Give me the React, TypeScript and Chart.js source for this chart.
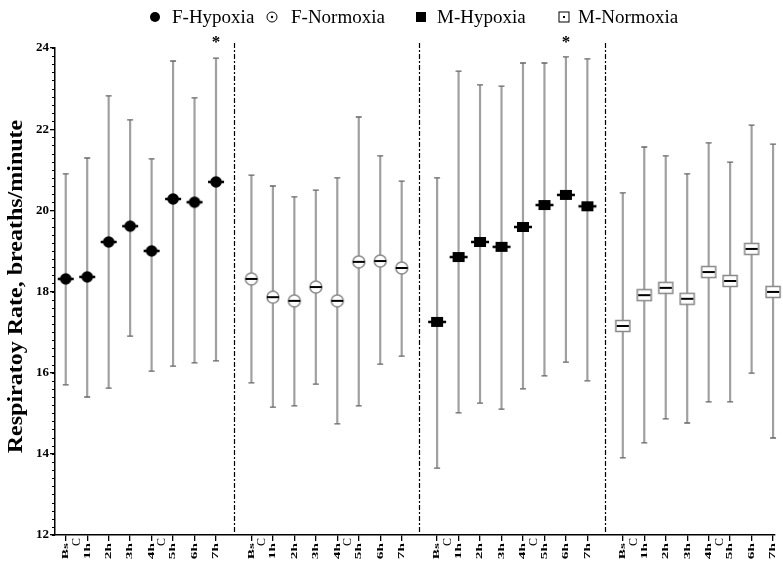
import React, { useEffect, useRef } from 'react';
import { Chart, registerables } from 'chart.js';

Chart.register(...registerables);

// ---------- data ----------
const timeLabels = ['Bs', '1h', '2h', '3h', '4h', '5h', '6h', '7h'];
const groupNames = ['F-Hypoxia', 'F-Normoxia', 'M-Hypoxia', 'M-Normoxia'];

const fHypoxiaMean = [18.31, 18.36, 19.22, 19.61, 19.0, 20.28, 20.2, 20.7];
const fHypoxiaLow = [15.7, 15.4, 15.62, 16.9, 16.04, 16.16, 16.24, 16.29];
const fHypoxiaHigh = [20.9, 21.29, 22.82, 22.23, 21.27, 23.68, 22.77, 23.75];

const fNormoxiaMean = [18.31, 17.86, 17.77, 18.11, 17.77, 18.73, 18.75, 18.58];
const fNormoxiaLow = [15.75, 15.15, 15.18, 15.72, 14.74, 15.18, 16.21, 16.41];
const fNormoxiaHigh = [20.87, 20.6, 20.33, 20.5, 20.8, 22.3, 21.34, 20.72];

const mHypoxiaMean = [17.25, 18.85, 19.22, 19.1, 19.59, 20.13, 20.38, 20.1];
const mHypoxiaLow = [13.65, 15.01, 15.25, 15.1, 15.6, 15.92, 16.26, 15.8];
const mHypoxiaHigh = [20.8, 23.43, 23.09, 23.06, 23.63, 23.63, 23.78, 23.73];

const mNormoxiaMean = [17.15, 17.91, 18.09, 17.82, 18.48, 18.26, 19.05, 17.99];
const mNormoxiaLow = [13.9, 14.27, 14.86, 14.76, 15.28, 15.28, 15.99, 14.39];
const mNormoxiaHigh = [20.43, 21.56, 21.34, 20.9, 21.66, 21.19, 22.1, 21.63];

// significance marks: index of time point flagged per group
const fHypoxiaSig = [7];
const fNormoxiaSig: number[] = [];
const mHypoxiaSig = [6];
const mNormoxiaSig: number[] = [];

const yMin = 12;
const yMax = 24;
const yStep = 2;
const yMinorStep = 0.2;
const yAxisTitle = 'Respiratoy Rate, breaths/minute';
const eventSymbol = 'C';
const eventPositions = [0.5, 4.5];

// ---------- layout constants ----------
const GROUP_STEP = 8.65;
const SERIF = '"Liberation Serif", "Times New Roman", serif';
const W = 783;
const H = 562;

type Series = { name: string; mean: number[]; low: number[]; high: number[]; sig: number[]; kind: string };
const series: Series[] = [
  { name: groupNames[0], mean: fHypoxiaMean, low: fHypoxiaLow, high: fHypoxiaHigh, sig: fHypoxiaSig, kind: 'fcircle' },
  { name: groupNames[1], mean: fNormoxiaMean, low: fNormoxiaLow, high: fNormoxiaHigh, sig: fNormoxiaSig, kind: 'ocircle' },
  { name: groupNames[2], mean: mHypoxiaMean, low: mHypoxiaLow, high: mHypoxiaHigh, sig: mHypoxiaSig, kind: 'fsquare' },
  { name: groupNames[3], mean: mNormoxiaMean, low: mNormoxiaLow, high: mNormoxiaHigh, sig: mNormoxiaSig, kind: 'osquare' },
];

const xOf = (g: number, i: number) => g * GROUP_STEP + i;

function makeMarker(kind: string): HTMLCanvasElement {
  const c = document.createElement('canvas');
  c.width = 20;
  c.height = 14;
  const ctx = c.getContext('2d')!;
  const cx = 10, cy = 7;
  if (kind === 'fcircle') {
    ctx.fillStyle = '#000';
    ctx.beginPath();
    ctx.arc(cx, cy, 5.8, 0, Math.PI * 2);
    ctx.fill();
    ctx.strokeStyle = '#000';
    ctx.lineWidth = 2.5;
    ctx.beginPath();
    ctx.moveTo(2, cy);
    ctx.lineTo(18, cy);
    ctx.stroke();
  } else if (kind === 'ocircle') {
    ctx.fillStyle = '#fff';
    ctx.strokeStyle = '#888';
    ctx.lineWidth = 1.5;
    ctx.beginPath();
    ctx.arc(cx, cy, 6, 0, Math.PI * 2);
    ctx.fill();
    ctx.stroke();
    ctx.strokeStyle = '#000';
    ctx.lineWidth = 2;
    ctx.beginPath();
    ctx.moveTo(4, cy);
    ctx.lineTo(16, cy);
    ctx.stroke();
  } else if (kind === 'fsquare') {
    ctx.fillStyle = '#000';
    ctx.fillRect(4, 2, 12, 10);
    ctx.strokeStyle = '#000';
    ctx.lineWidth = 2.5;
    ctx.beginPath();
    ctx.moveTo(1, cy);
    ctx.lineTo(19, cy);
    ctx.stroke();
  } else {
    ctx.fillStyle = '#fff';
    ctx.strokeStyle = '#888';
    ctx.lineWidth = 1.5;
    ctx.fillRect(3, 1.5, 14, 11);
    ctx.strokeRect(3, 1.5, 14, 11);
    ctx.strokeStyle = '#000';
    ctx.lineWidth = 2;
    ctx.beginPath();
    ctx.moveTo(4, cy);
    ctx.lineTo(16, cy);
    ctx.stroke();
  }
  return c;
}

function drawLegendMarker(ctx: CanvasRenderingContext2D, kind: string, x: number, y: number) {
  ctx.save();
  ctx.fillStyle = '#000';
  ctx.strokeStyle = '#000';
  if (kind === 'fcircle') {
    ctx.beginPath();
    ctx.arc(x, y, 5, 0, Math.PI * 2);
    ctx.fill();
  } else if (kind === 'ocircle') {
    ctx.lineWidth = 1;
    ctx.beginPath();
    ctx.arc(x, y, 5, 0, Math.PI * 2);
    ctx.stroke();
    ctx.beginPath();
    ctx.arc(x, y, 1.2, 0, Math.PI * 2);
    ctx.fill();
  } else if (kind === 'fsquare') {
    ctx.fillRect(x - 5, y - 5, 10, 10);
  } else {
    ctx.lineWidth = 1;
    ctx.strokeRect(x - 5, y - 5, 10, 10);
    ctx.fillRect(x - 1, y - 1, 2, 2);
  }
  ctx.restore();
}

const legendMarkerX = [155, 272, 421, 564];
const legendTextX = [172, 291, 437, 578];

const decorPlugin = {
  id: 'decor',
  beforeDatasetsDraw(chart: any) {
    const { ctx, chartArea } = chart;
    const xs = chart.scales.x;
    const ys = chart.scales.y;
    ctx.save();
    // group dividers
    ctx.strokeStyle = '#000';
    ctx.lineWidth = 1.2;
    ctx.setLineDash([5, 2, 2, 2]);
    for (let g = 1; g < series.length; g++) {
      const px = Math.round(xs.getPixelForValue(g * GROUP_STEP - (GROUP_STEP - 7) / 2)) + 0.5;
      ctx.beginPath();
      ctx.moveTo(px, chartArea.top - 5);
      ctx.lineTo(px, chartArea.bottom);
      ctx.stroke();
    }
    ctx.setLineDash([]);
    // error bars
    series.forEach((s, g) => {
      s.mean.forEach((_, i) => {
        const px = xs.getPixelForValue(xOf(g, i));
        const lo = ys.getPixelForValue(s.low[i]);
        const hi = ys.getPixelForValue(s.high[i]);
        ctx.strokeStyle = '#a0a0a0';
        ctx.lineWidth = 2.2;
        ctx.beginPath();
        ctx.moveTo(px, lo);
        ctx.lineTo(px, hi);
        ctx.stroke();
        ctx.strokeStyle = '#666';
        ctx.lineWidth = 1.3;
        ctx.beginPath();
        ctx.moveTo(px - 3, lo);
        ctx.lineTo(px + 3, lo);
        ctx.moveTo(px - 3, hi);
        ctx.lineTo(px + 3, hi);
        ctx.stroke();
      });
    });
    ctx.restore();
  },
  afterDraw(chart: any) {
    const { ctx, chartArea } = chart;
    const xs = chart.scales.x;
    const ys = chart.scales.y;
    ctx.save();
    // minor y ticks
    ctx.strokeStyle = '#000';
    ctx.lineWidth = 1;
    const n = Math.round((yMax - yMin) / yMinorStep);
    for (let k = 0; k <= n; k++) {
      const py = Math.round(ys.getPixelForValue(yMin + k * yMinorStep)) + 0.5;
      ctx.beginPath();
      ctx.moveTo(chartArea.left - 3, py);
      ctx.lineTo(chartArea.left, py);
      ctx.stroke();
    }
    // y title
    ctx.fillStyle = '#000';
    ctx.save();
    ctx.translate(17, (chartArea.top + chartArea.bottom) / 2 - 5);
    ctx.rotate(-Math.PI / 2);
    ctx.scale(1.2, 1);
    ctx.font = `bold 20px ${SERIF}`;
    ctx.textAlign = 'center';
    ctx.textBaseline = 'middle';
    ctx.fillText(yAxisTitle, 0, 0);
    ctx.restore();
    // x labels
    series.forEach((_, g) => {
      timeLabels.forEach((lab, i) => {
        const px = xs.getPixelForValue(xOf(g, i));
        ctx.save();
        ctx.translate(px, chartArea.bottom + 8);
        ctx.rotate(-Math.PI / 2);
        ctx.scale(1.7, 1);
        ctx.font = `bold 9px ${SERIF}`;
        ctx.textAlign = 'right';
        ctx.textBaseline = 'middle';
        ctx.fillText(lab, 0, 0);
        ctx.restore();
      });
      eventPositions.forEach((p) => {
        const px = xs.getPixelForValue(xOf(g, p));
        ctx.save();
        ctx.translate(px, chartArea.bottom + 3);
        ctx.rotate(-Math.PI / 2);
        ctx.font = `12px ${SERIF}`;
        ctx.textAlign = 'right';
        ctx.textBaseline = 'middle';
        ctx.fillText(eventSymbol, 0, 0);
        ctx.restore();
      });
      // significance stars
      series[g].sig.forEach((i) => {
        const px = xs.getPixelForValue(xOf(g, i));
        ctx.font = `bold 17px ${SERIF}`;
        ctx.textAlign = 'center';
        ctx.textBaseline = 'alphabetic';
        ctx.fillText('*', px, chartArea.top - 1);
      });
    });
    // legend
    ctx.font = `19px ${SERIF}`;
    ctx.textAlign = 'left';
    ctx.textBaseline = 'middle';
    series.forEach((s, g) => {
      drawLegendMarker(ctx, s.kind, legendMarkerX[g], 17);
      ctx.fillStyle = '#000';
      ctx.fillText(s.name, legendTextX[g], 18);
    });
    ctx.restore();
  },
};

export default function App() {
  const ref = useRef<HTMLCanvasElement>(null);
  useEffect(() => {
    if (!ref.current) return;
    const datasets = series.map((s, g) => ({
      label: s.name,
      data: s.mean.map((v, i) => ({ x: xOf(g, i), y: v })),
      pointStyle: makeMarker(s.kind) as any,
      pointRadius: 7,
      showLine: false,
      clip: false as any,
    }));
    const xTicks: number[] = [];
    series.forEach((_, g) => timeLabels.forEach((__, i) => xTicks.push(xOf(g, i))));
    const chart = new Chart(ref.current, {
      type: 'scatter',
      data: { datasets },
      options: {
        animation: false,
        responsive: false,
        events: [],
        layout: { padding: { top: 48, left: 0, right: 0, bottom: 0 } },
        plugins: { legend: { display: false }, tooltip: { enabled: false } },
        scales: {
          x: {
            type: 'linear',
            min: -0.5,
            max: 33.04,
            afterBuildTicks: (axis: any) => {
              axis.ticks = xTicks.map((v) => ({ value: v }));
            },
            afterFit: (s: any) => {
              s.height = 27;
            },
            ticks: { display: false },
            grid: { display: true, drawOnChartArea: false, drawTicks: true, tickLength: 6, color: '#000', lineWidth: 1.3 },
            border: { display: true, color: '#000', width: 1.5 },
          },
          y: {
            type: 'linear',
            min: yMin,
            max: yMax,
            afterFit: (s: any) => {
              s.width = 55;
            },
            ticks: {
              stepSize: yStep,
              padding: 1,
              color: '#000',
              font: { family: SERIF, weight: 'bold', size: 13 },
            },
            grid: { display: true, drawOnChartArea: false, drawTicks: true, tickLength: 5, color: '#000', lineWidth: 1.3 },
            border: { display: true, color: '#000', width: 1.5 },
          },
        },
      },
      plugins: [decorPlugin],
    });
    return () => chart.destroy();
  }, []);
  return (
    <div style={{ position: 'absolute', left: 0, top: 0, width: W, height: H, background: '#fff' }}>
      <canvas ref={ref} width={W} height={H} style={{ display: 'block' }} />
    </div>
  );
}
